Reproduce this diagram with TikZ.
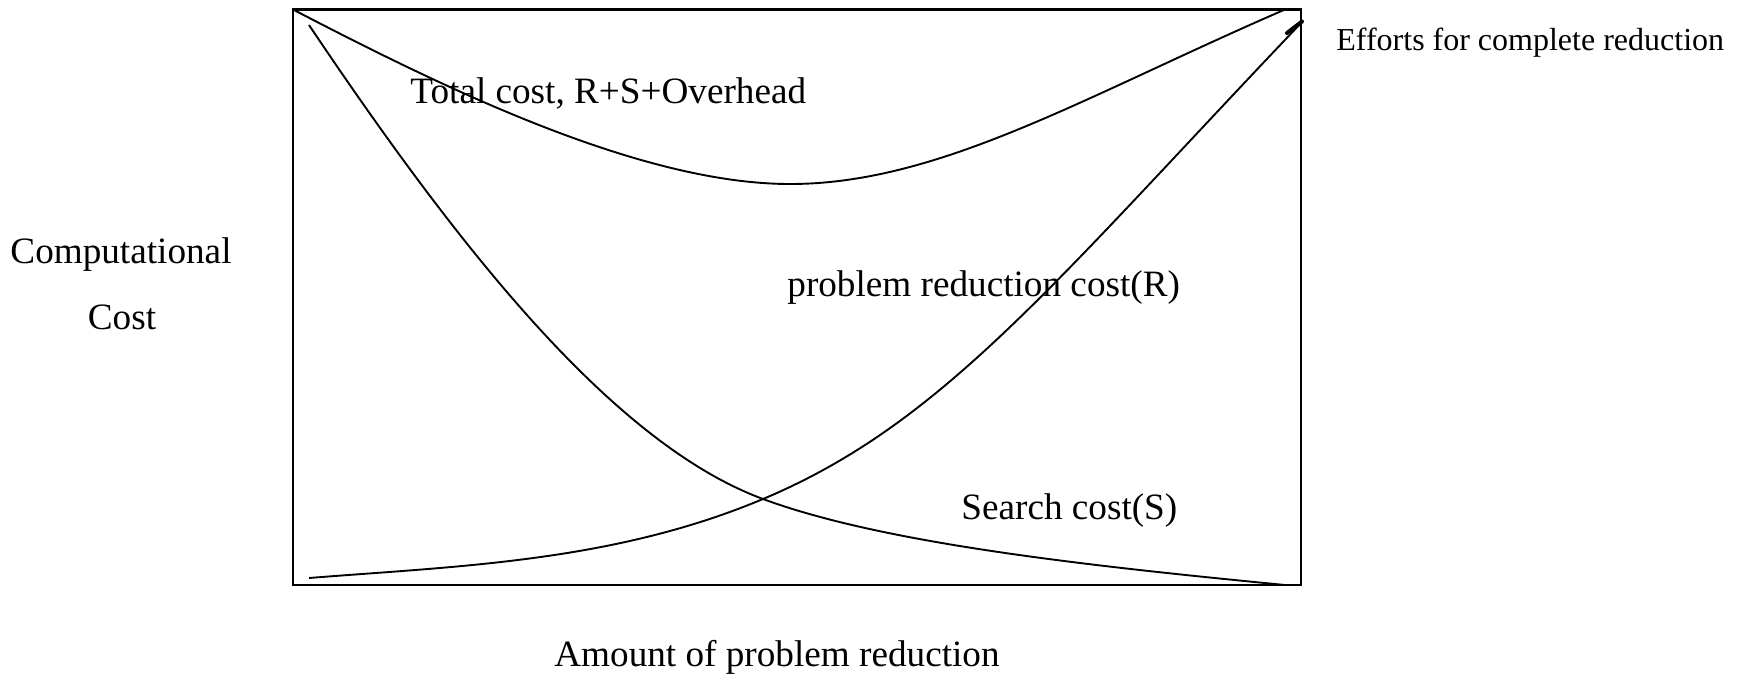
\documentclass[tikz,border=0pt]{standalone}
\usepackage{fontspec}
\setmainfont{Liberation Serif}
\begin{document}
\begin{tikzpicture}[x=0.5pt,y=-0.5pt,
  lbl/.style={inner sep=0pt,anchor=base west,font=\fontsize{18.6}{22}\selectfont},
  small/.style={inner sep=0pt,anchor=base west,font=\fontsize{16}{19}\selectfont},
  curve/.style={line width=0.95pt,line join=round},
  frame/.style={line width=1.1pt}]
\useasboundingbox (0,0) rectangle (1746,676);
% plot frame
\draw[frame] (293,9.5) rectangle (1301,585);
% total cost: R + S + overhead
\draw[curve] (293,9.5) .. controls (443,87.5) and (640,184) .. (790,184)
                       .. controls (940,184) and (1085,96) .. (1285,9.5);
% search cost
\draw[curve] (309,25) .. controls (459,248.5) and (613,443.5) .. (763,499)
                      .. controls (883,543.4) and (1085,565.5) .. (1285,585);
% problem reduction cost
\draw[curve] (309,578) .. controls (459,566) and (613,562) .. (763,499)
                       .. controls (943,423.4) and (1052,284.5) .. (1302,22);
% heavy end of the reduction curve
\coordinate (tickA) at (1287,33);
\coordinate (tickB) at (1302,21.5);
\draw[line width=2pt,line cap=round] (tickA) -- (tickB);
% labels
\node[lbl] (total) at (410,103.5) {Total cost, R+S+Overhead};
\node[lbl] (red) at (787,296) {problem reduction cost(R)};
\node[lbl] (search) at (961,519) {Search cost(S)};
\node[small] (eff) at (1336,50.5) {Efforts for complete reduction};
\node[lbl,anchor=base] (comp) at (121,263) {Computational};
\node[lbl,anchor=base] (cost) at (122,329.5) {Cost};
\node[lbl,anchor=base] (amount) at (777,666) {Amount of problem reduction};
\end{tikzpicture}
\end{document}
